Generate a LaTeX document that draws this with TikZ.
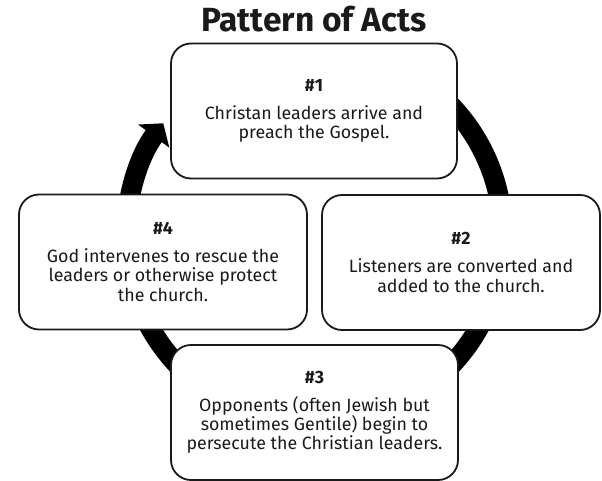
\documentclass[tikz,border=0pt]{standalone}
\usepackage{fontspec}
\setmainfont{Fira Sans}
\usetikzlibrary{arrows.meta}
\pgfdeclarelayer{bg}
\pgfsetlayers{bg,main}
\definecolor{ink}{HTML}{1A1A1A}
\tikzset{
    every node/.style={inner sep=0mm, text=ink},
    stage/.style={draw=ink, rounded corners=20pt, fill=white, line width=1.8pt,
        minimum height=135pt, align=center, font=\fontsize{17.8}{19.3}\selectfont},
    ring/.style={line width=20pt, -{Triangle[width=38pt, length=16pt]}}
}
\newcommand{\stagetext}[2]{{\bfseries #1}\\[8.5pt]#2}

\begin{document}
\begin{tikzpicture}[x=1pt, y=-1pt]
    \useasboundingbox (0,0) rectangle (602,481);

    \node (title) [anchor=base, font=\fontsize{33.5}{33.5}\selectfont\bfseries] at (314, 32) {Pattern of Acts};

    \node (s1) [stage, minimum width=286pt] at (314, 111)
        {\stagetext{\#1}{Christan leaders arrive and\\preach the Gospel.}};
    \node (s2) [stage, minimum width=278pt] at (461, 262.5)
        {\stagetext{\#2}{Listeners are converted and\\added to the church.}};
    \node (s3) [stage, minimum width=287pt] at (314.5, 412.5)
        {\stagetext{\#3}{Opponents (often Jewish but\\sometimes Gentile) begin to\\persecute the Christian leaders.}};
    \node (s4) [stage, minimum width=288pt] at (163, 262)
        {\stagetext{\#4}{God intervenes to rescue the\\leaders or otherwise protect\\the church.}};

    \coordinate (hub) at (314.5, 235.6);

    \begin{pgfonlayer}{bg}
        \draw[ring] ([shift={(hub)}] -60:188.4) arc[start angle=-60, end angle=216.6, radius=188.4];
    \end{pgfonlayer}
\end{tikzpicture}
\end{document}
